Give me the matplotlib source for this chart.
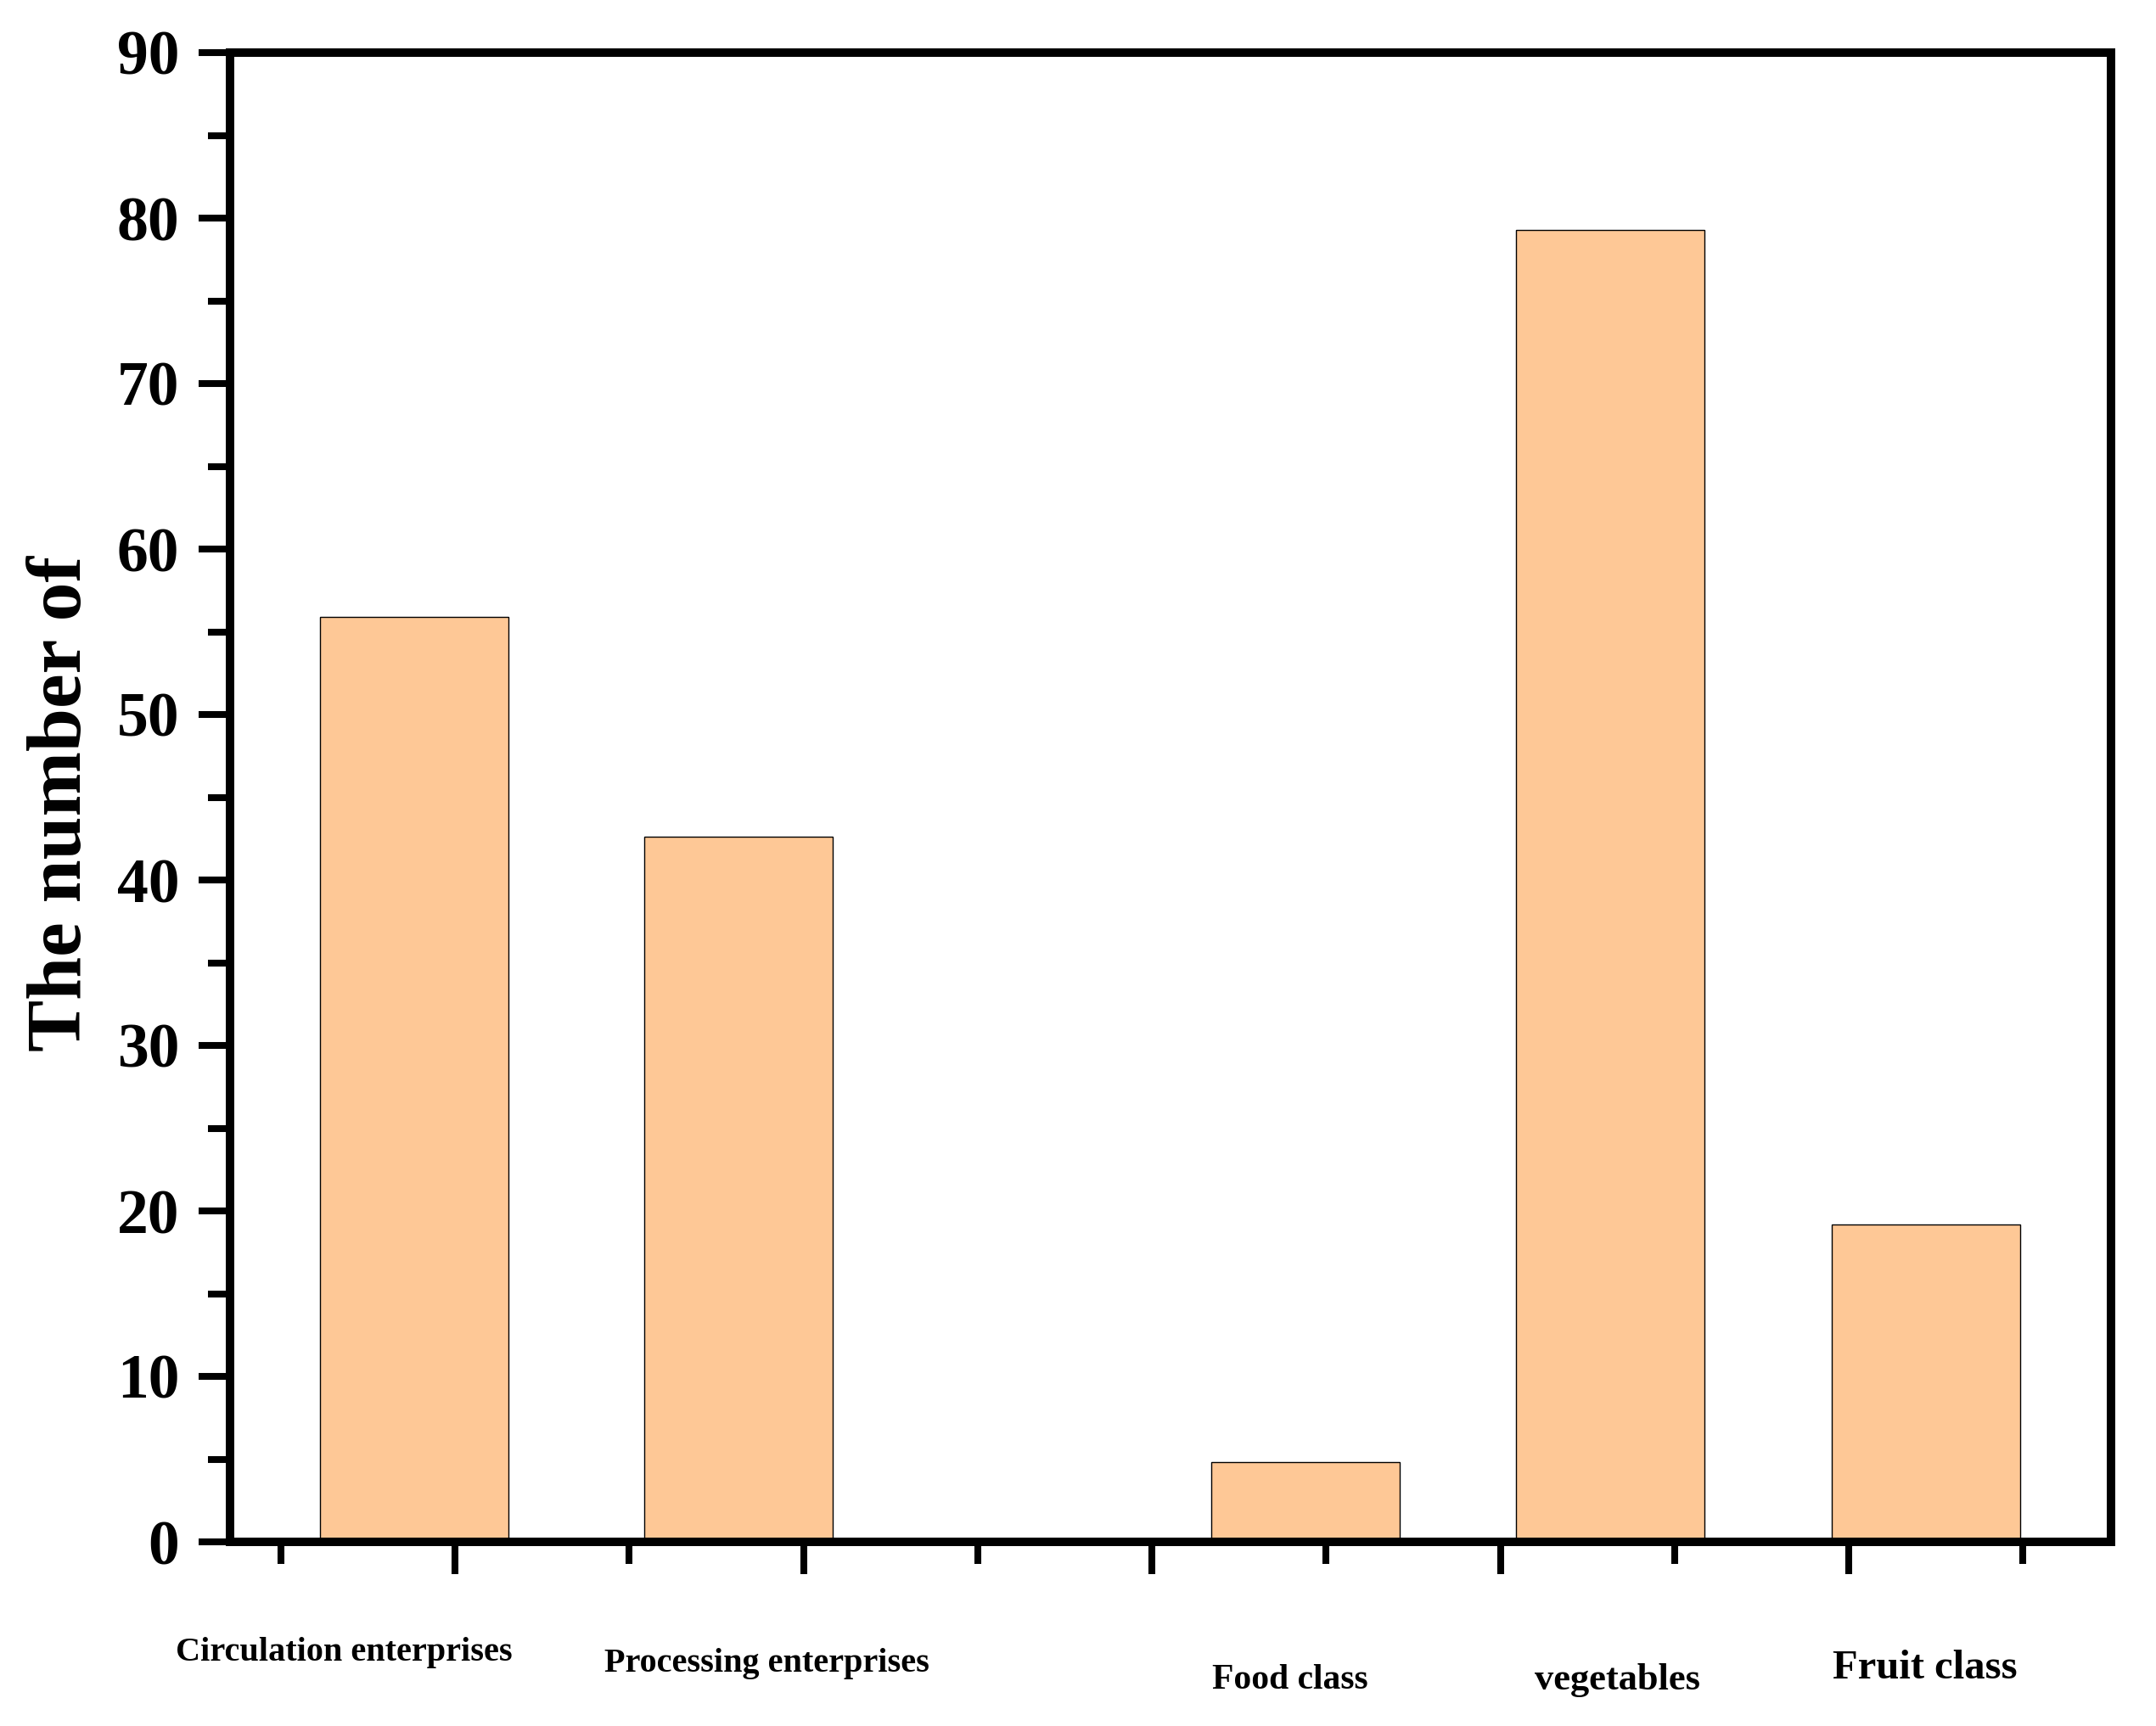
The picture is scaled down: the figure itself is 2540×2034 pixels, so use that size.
import matplotlib
matplotlib.use("Agg")
import matplotlib.pyplot as plt
from matplotlib.ticker import MultipleLocator, FixedLocator, NullFormatter
import matplotlib.transforms as mtransforms

# ---- data ----
categories = ["Circulation enterprises", "Processing enterprises", "Food class", "vegetables", "Fruit class"]
values = [55.9, 42.6, 4.8, 79.3, 19.2]
bar_x = [0.883, 1.814, 3.441, 4.316, 5.221]
bar_width = 0.541
y_ticks = [0, 10, 20, 30, 40, 50, 60, 70, 80, 90]
x_major = [1, 2, 3, 4, 5]
x_minor = [0.5, 1.5, 2.5, 3.5, 4.5, 5.5]
ylabel = "The number of"

# label layout (x in data units, y in axes fraction, font size)
label_x = [0.681, 1.896, 3.396, 4.336, 5.219]
label_y = [-0.0746, -0.0815, -0.093, -0.093, -0.0848]
label_fs = [29, 29, 30, 32, 35]

plt.rcParams['font.family'] = ['Liberation Serif', 'DejaVu Serif']
plt.rcParams['font.weight'] = 'bold'

fig = plt.figure(figsize=(25.4, 20.34), dpi=100)
ax = fig.add_axes([271/2540, 1 - 1817/2034, (2487-271)/2540, (1817-62)/2034])

ax.bar(bar_x, values, width=bar_width, color='#FEC896', edgecolor='black', linewidth=1.0, zorder=2)

ax.set_xlim(0.3544, 5.7527)
ax.set_ylim(0, 90)

for s in ax.spines.values():
    s.set_linewidth(7.2)
    s.set_capstyle('projecting')

ax.yaxis.set_major_locator(FixedLocator(y_ticks))
ax.yaxis.set_minor_locator(MultipleLocator(5))
ax.xaxis.set_major_locator(FixedLocator(x_major))
ax.xaxis.set_minor_locator(FixedLocator(x_minor))
ax.xaxis.set_major_formatter(NullFormatter())

ax.tick_params(axis='both', which='major', direction='out', length=27, width=5.8, color='black')
ax.tick_params(axis='both', which='minor', direction='out', length=19, width=5.8, color='black')
ax.tick_params(axis='y', which='major', labelsize=53, pad=16)
ax.tick_params(top=False, right=False, which='both')
for lab in ax.get_yticklabels():
    lab.set_fontweight('bold')

ax.set_ylabel(ylabel, fontsize=66, fontweight='bold')
ax.yaxis.set_label_coords(-0.0894, 0.4957)
ax.yaxis.label.set_va('center')

trans = mtransforms.blended_transform_factory(ax.transData, ax.transAxes)
for name, lx, ly, fs in zip(categories, label_x, label_y, label_fs):
    ax.text(lx, ly, name, transform=trans, ha='center', va='center',
            fontsize=fs, fontweight='bold', clip_on=False)

fig.savefig("out.png", dpi=100, facecolor='white')
